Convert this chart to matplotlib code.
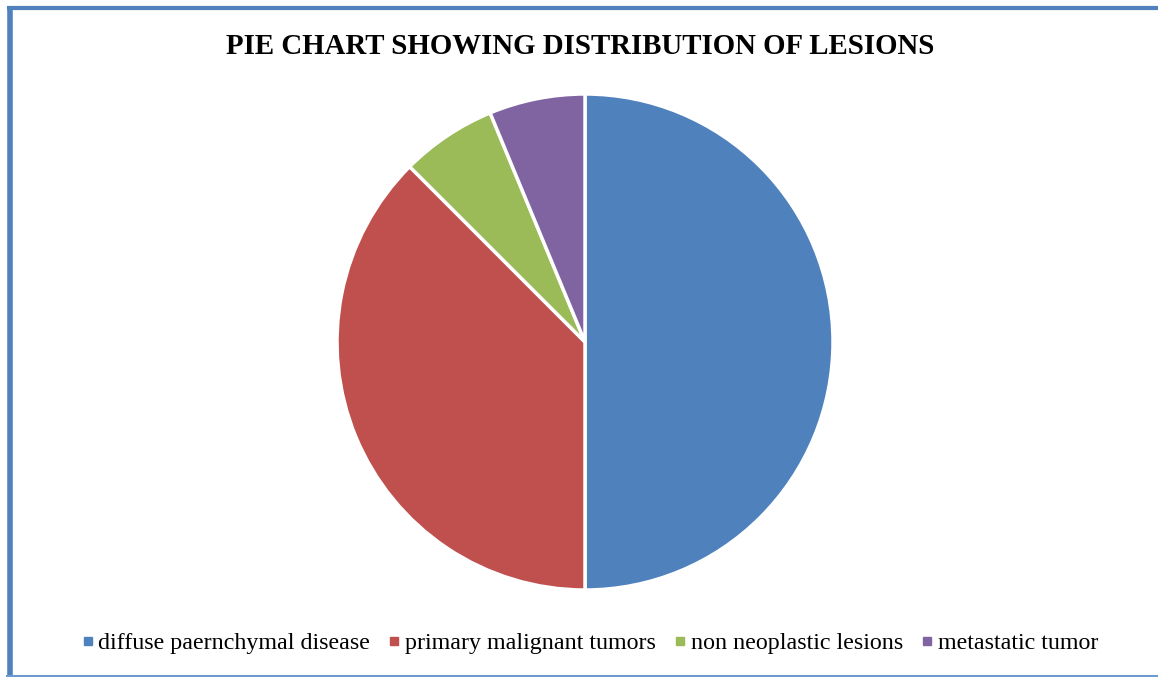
import matplotlib.pyplot as plt
from matplotlib.lines import Line2D

labels = ['diffuse paernchymal disease', 'primary malignant tumors',
          'non neoplastic lesions', 'metastatic tumor']
values = [50, 37.5, 6.25, 6.25]
colors = ['#4F81BD', '#C0504D', '#9BBB59', '#8064A2']

W, H = 1158, 677
fig = plt.figure(figsize=(W / 100, H / 100), dpi=100)
plt.rcParams['font.family'] = ['Liberation Serif', 'DejaVu Serif']

ax = fig.add_axes([0, 0, 1, 1])

ax.pie(values, colors=colors, startangle=90, counterclock=False,
       center=(585, H - 342), radius=248, frame=True,
       wedgeprops=dict(edgecolor='white', linewidth=2.5))
ax.set_xlim(0, W)
ax.set_ylim(0, H)
ax.axis('off')

# chart frame
ax.plot([7, W], [H - 7.5, H - 7.5], color='#4F81BD', lw=3, solid_capstyle='butt')
ax.plot([9.5, 9.5], [0, H - 6], color='#4F81BD', lw=4, solid_capstyle='butt')
ax.plot([7, W], [1.5, 1.5], color='#6A9AD0', lw=1.5)

fig.text(580 / W, 1 - 46 / H, 'PIE CHART SHOWING DISTRIBUTION OF LESIONS',
         ha='center', va='center', fontsize=20.8, fontweight='bold')

handles = [Line2D([], [], marker='s', ls='', color=c, markersize=5.5) for c in colors]
fig.legend(handles, labels, loc='center', bbox_to_anchor=(587 / W, 1 - 643 / H),
           ncol=4, frameon=False, fontsize=17.3, handletextpad=-0.05,
           columnspacing=0.5, handlelength=1.0)

fig.savefig('out.png', dpi=100)
